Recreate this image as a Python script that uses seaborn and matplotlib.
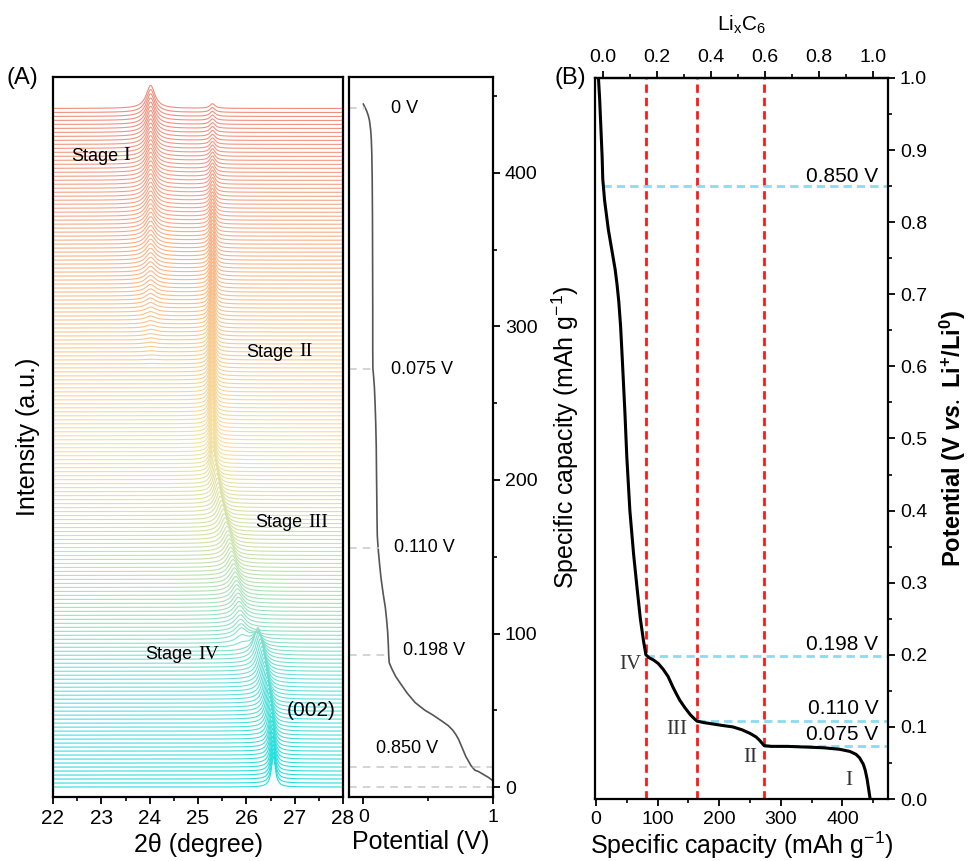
import numpy as np
import pandas as pd
import matplotlib
matplotlib.use("Agg")
import matplotlib.pyplot as plt
import seaborn as sns
from matplotlib.colors import LinearSegmentedColormap
from matplotlib.ticker import MultipleLocator
from matplotlib.transforms import offset_copy

sns.set_theme(style="ticks")
plt.rcParams.update({
    "font.family": ["Liberation Sans", "DejaVu Sans"],
    "mathtext.fontset": "custom",
    "mathtext.rm": "Liberation Serif",
    "mathtext.it": "Liberation Sans:italic:bold",
    "mathtext.bf": "Liberation Sans:bold",
    "axes.edgecolor": "black",
    "axes.labelcolor": "black",
    "text.color": "black",
    "xtick.color": "black",
    "ytick.color": "black",
    "axes.linewidth": 1.6,
})

# ---------------- galvanostatic lithiation curve ----------------
capacity = [4, 6, 8, 10, 11, 14, 20, 27, 31, 34, 37, 40, 43, 47, 50, 55, 61, 67,
            72, 77, 80, 81, 86, 93, 101, 109, 117, 125, 131, 136, 144, 153, 160,
            164, 175, 190, 205, 222, 237, 250, 260, 266, 271, 273, 285, 310, 342,
            370, 395, 412, 422, 428, 434, 437, 440, 442, 445]
potential = [1.0, 0.97, 0.93, 0.89, 0.86, 0.83, 0.79, 0.755, 0.735, 0.715, 0.69,
             0.655, 0.605, 0.535, 0.475, 0.40, 0.34, 0.29, 0.25, 0.22, 0.205, 0.20,
             0.196, 0.193, 0.188, 0.180, 0.170, 0.155, 0.145, 0.137, 0.127, 0.117,
             0.111, 0.108, 0.106, 0.104, 0.102, 0.100, 0.096, 0.091, 0.086, 0.081,
             0.076, 0.074, 0.073, 0.073, 0.072, 0.071, 0.069, 0.066, 0.062, 0.057,
             0.048, 0.040, 0.028, 0.017, 0.0]

# marked states: potential label, capacity
marker_labels = ["0 V", "0.075 V", "0.110 V", "0.198 V", "0.850 V"]
marker_volts = [0.0, 0.075, 0.110, 0.198, 0.850]
marker_caps = [442, 272, 156, 86, 13]

# stage boundaries on the capacity axis
stage_caps = [81, 164, 273]
stage_numerals = ["IV", "III", "II", "I"]
numeral_caps = [55, 131, 250, 411]
numeral_volts = [0.186, 0.096, 0.058, 0.026]
cyan_volts = [0.850, 0.198, 0.108, 0.0735]
cyan_caps = [11, 81, 164, 273]
cyan_labels = ["0.850 V", "0.198 V", "0.110 V", "0.075 V"]
cyan_label_volts = [0.864, 0.214, 0.126, 0.089]

# ---------------- operando XRD scans ----------------
n_scans = 171
scan_caps = np.linspace(0, 442, n_scans)
two_theta = np.linspace(22, 28, 601)

# dilute / stage IV (002) reflection
cap_g = [0, 13, 30, 50, 70, 86, 92, 100]
pos_g = [26.56, 26.55, 26.52, 26.44, 26.34, 26.24, 26.22, 26.20]
amp_g = [20, 20, 20, 20, 19, 18, 8, 0]
wid_g = [0.10, 0.11, 0.13, 0.16, 0.19, 0.21, 0.23, 0.24]

# stage III -> stage II reflection
cap_2 = [88, 96, 110, 130, 156, 180, 205, 240, 272, 300, 340, 380, 420, 442]
pos_2 = [25.93, 25.90, 25.86, 25.77, 25.62, 25.44, 25.31, 25.29, 25.29, 25.29,
         25.30, 25.30, 25.30, 25.30]
amp_2 = [0, 7, 9, 10, 11, 13, 17, 20, 20, 18, 13, 8, 4, 3]
wid_2 = [0.30, 0.28, 0.26, 0.24, 0.22, 0.18, 0.12, 0.10, 0.10, 0.10, 0.11, 0.12,
         0.13, 0.13]

# stage I (LiC6) reflection
cap_1 = [272, 300, 330, 360, 400, 442]
pos_1 = [24.02, 24.02, 24.02, 24.02, 24.02, 24.02]
amp_1 = [0, 2, 6, 10, 13, 15]
wid_1 = [0.25, 0.25, 0.25, 0.24, 0.23, 0.22]

# stage annotations in the waterfall (2theta, capacity)
stage_names = ["I", "II", "III", "IV"]
stage_text_x = [22.37, 26.0, 26.19, 23.91]
stage_text_y = [411, 283, 172, 86]

scan_colors = ["#22dede", "#6fe0d4", "#c6e2a8", "#f6e0a0", "#f8c890", "#f8a882", "#f08c7c"]


def lorentz(x, x0, amp, fwhm):
    g = fwhm / 2.0
    return amp * g ** 2 / ((x - x0) ** 2 + g ** 2)


def reflection(c, caps, pos, amp, wid):
    if c < caps[0] or c > caps[-1]:
        return np.zeros_like(two_theta)
    return lorentz(two_theta, np.interp(c, caps, pos), np.interp(c, caps, amp),
                   np.interp(c, caps, wid))


frames = []
for i, c in enumerate(scan_caps):
    sig = (reflection(c, cap_g, pos_g, amp_g, wid_g)
           + reflection(c, cap_2, pos_2, amp_2, wid_2)
           + reflection(c, cap_1, pos_1, amp_1, wid_1))
    frames.append(pd.DataFrame({"two_theta": two_theta, "signal": c + sig, "scan": i}))
xrd = pd.concat(frames, ignore_index=True)

cmap = LinearSegmentedColormap.from_list("scan", scan_colors)
palette = {i: cmap(c / scan_caps[-1]) for i, c in enumerate(scan_caps)}

# ---------------- figure ----------------
W, H = 968, 861
fig = plt.figure(figsize=(W / 100, H / 100), dpi=100)
axA = fig.add_axes([53 / W, 64 / H, 290 / W, 720 / H])
axM = fig.add_axes([349 / W, 64 / H, 144 / W, 720 / H])
axB = fig.add_axes([595 / W, 62 / H, 293 / W, 721 / H])
renderer = fig.canvas.get_renderer()

ylim_cap = (-6.5, 462.5)
label_size = 18

# (A) waterfall
sns.lineplot(data=xrd, x="two_theta", y="signal", hue="scan", palette=palette,
             estimator=None, sort=False, legend=False, lw=0.8, ax=axA)
axA.set_xlim(22, 28)
axA.set_ylim(*ylim_cap)
axA.set_yticks([])
axA.xaxis.set_major_locator(MultipleLocator(1))
axA.xaxis.set_minor_locator(MultipleLocator(0.5))
axA.tick_params(axis="x", which="major", direction="out", length=5, width=1.3,
                labelsize=15, pad=4)
axA.tick_params(axis="x", which="minor", direction="out", length=3, width=1.2)
axA.set_xlabel("2θ (degree)", fontsize=label_size, labelpad=3)
axA.set_ylabel("Intensity (a.u.)", fontsize=label_size, labelpad=9)
for s in axA.spines.values():
    s.set_visible(True)

# "Stage" in sans, the numeral in serif right after it
stage_font = 13
for name, x, y in zip(stage_names, stage_text_x, stage_text_y):
    t = axA.text(x, y, "Stage", fontsize=stage_font, va="center")
    w_pts = t.get_window_extent(renderer).width * 72 / fig.dpi + 0.3 * stage_font
    axA.text(x, y, name, fontsize=stage_font + 1, va="center", family="Liberation Serif",
             transform=offset_copy(axA.transData, fig=fig, x=w_pts, y=0.5, units="points"))
axA.text(26.84, 50, "(002)", fontsize=15, va="center")

# (A) potential profile
sns.lineplot(x=potential, y=capacity, sort=False, estimator=None, color="#555555",
             lw=1.2, ax=axM)
axM.set_xlim(-0.11, 1.0)
axM.set_ylim(*ylim_cap)
for v, c in zip(marker_volts, marker_caps):
    axM.plot([-0.11, min(v + 0.01, 1.0) if v < 0.8 else 1.0], [c, c], ls=(0, (5, 4)),
             color="#c8c8c8", lw=1.1)
axM.plot([-0.11, 1.0], [0, 0], ls=(0, (5, 4)), color="#c8c8c8", lw=1.1)
label_pos = [(0.21, 442), (0.21, 272), (0.24, 156), (0.31, 89), (0.10, 25)]
for txt, (x, y) in zip(marker_labels, label_pos):
    axM.text(x, y, txt, fontsize=13, va="center")
axM.set_xticks([0, 1])
axM.set_xticklabels(["0", "1"])
axM.xaxis.set_minor_locator(MultipleLocator(0.5))
axM.yaxis.tick_right()
axM.yaxis.set_label_position("right")
axM.yaxis.set_major_locator(MultipleLocator(100))
axM.yaxis.set_minor_locator(MultipleLocator(50))
axM.tick_params(which="major", direction="out", length=5, width=1.3, labelsize=14)
axM.tick_params(which="minor", direction="out", length=3, width=1.2)
axM.set_xlabel("Potential (V)", fontsize=label_size, labelpad=3)
axM.set_ylabel(r"Specific capacity (mAh g$^{\mathregular{-1}}$)", fontsize=label_size,
               labelpad=9)

# (B) voltage profile vs capacity
sns.lineplot(x=capacity, y=potential, sort=False, estimator=None, color="black",
             lw=2.2, ax=axB)
axB.set_xlim(-1.6, 474)
axB.set_ylim(0, 1)
for c in stage_caps:
    axB.axvline(c, color="#ff1a1a", lw=2, ls=(0, (3, 1.8)), zorder=1)
for v, c in zip(cyan_volts, cyan_caps):
    axB.plot([c, 474], [v, v], color="#8adcf0", lw=2, ls=(0, (3, 1.8)), zorder=1)
for txt, v in zip(cyan_labels, cyan_label_volts):
    axB.text(458, v, txt, fontsize=15, ha="right", va="center")
for txt, c, v in zip(stage_numerals, numeral_caps, numeral_volts):
    axB.text(c, v, txt, fontsize=15, ha="center", va="center",
             family="Liberation Serif", color="#333333")
axB.xaxis.set_major_locator(MultipleLocator(100))
axB.xaxis.set_minor_locator(MultipleLocator(50))
axB.yaxis.tick_right()
axB.yaxis.set_label_position("right")
axB.yaxis.set_major_locator(MultipleLocator(0.1))
axB.yaxis.set_minor_locator(MultipleLocator(0.05))
axB.tick_params(which="major", direction="out", length=5, width=1.3, labelsize=14)
axB.tick_params(which="minor", direction="out", length=3, width=1.2)
axB.set_xlabel(r"Specific capacity (mAh g$^{\mathregular{-1}}$)", fontsize=label_size,
               labelpad=1)
axB.set_ylabel(r"Potential (V $\mathit{vs.}$ Li$^{\mathregular{+}}$/Li$^{\mathregular{0}}$)",
               fontsize=17, fontweight="bold", labelpad=8)

top = axB.secondary_xaxis("top", functions=(lambda c: (c - 11.4) / 438.6,
                                             lambda x: x * 438.6 + 11.4))
top.xaxis.set_major_locator(MultipleLocator(0.2))
top.xaxis.set_minor_locator(MultipleLocator(0.1))
top.tick_params(which="major", direction="out", length=5, width=1.3, labelsize=14)
top.tick_params(which="minor", direction="out", length=3, width=1.2)
top.set_xlabel(r"Li$_{\mathregular{x}}$C$_{\mathregular{6}}$", fontsize=15, labelpad=13)

fig.text(22 / W, 1 - 78 / H, "(A)", fontsize=17, ha="center", va="center")
fig.text(570 / W, 1 - 78 / H, "(B)", fontsize=17, ha="center", va="center")

fig.savefig("out.png", dpi=100)
